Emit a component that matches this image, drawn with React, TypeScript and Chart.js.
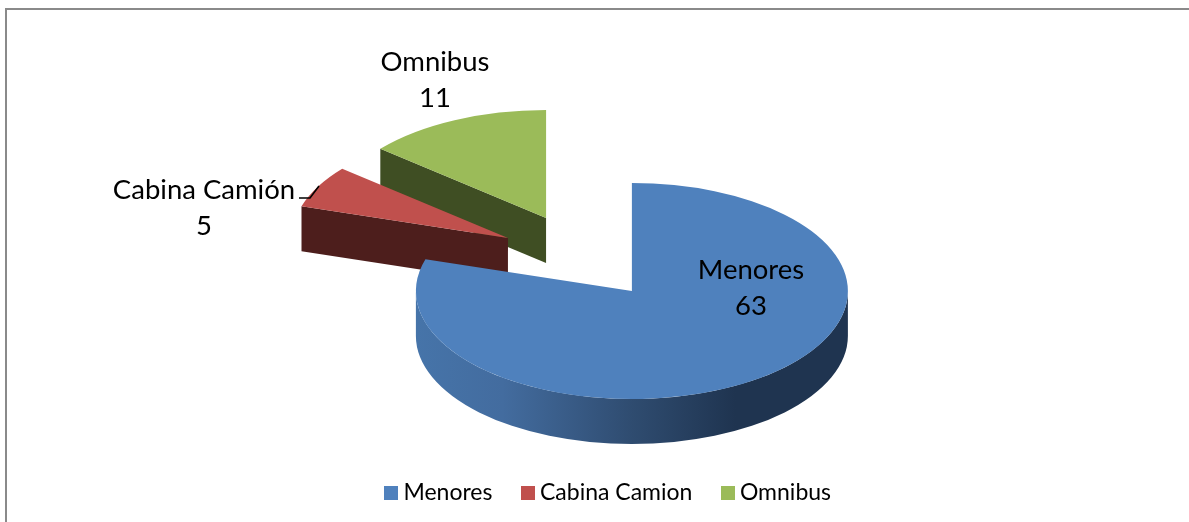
import React, { useEffect, useRef } from "react";
import { Chart, registerables } from "chart.js";

Chart.register(...registerables);

const categories = ["Menores", "Cabina Camion", "Omnibus"];
const dataLabelNames = ["Menores", "Cabina Camión", "Omnibus"];
const values = [63, 5, 11];
const topColors = ["#4F81BD", "#C0504D", "#9BBB59"];
const wallColors = ["#1F3450", "#4D1E1C", "#3F4E23"];

const FONT = "Lato, 'Open Sans', sans-serif";
const CENTER = { x: 584, y: 258.6 };
const SQUASH = 0.5;
const DEPTH = 45;
const RADIUS = 216;
const explode = [80.6, 86.5, 89.5];
const labelCenters = [
  { x: 751, y: 270 },
  { x: 204, y: 190 },
  { x: 435, y: 62 },
];
const LABEL_LINE = 36.5;

function swatch(color: string) {
  const c = document.createElement("canvas");
  c.width = 14;
  c.height = 14;
  const g = c.getContext("2d")!;
  g.fillStyle = color;
  g.fillRect(0, 0, 14, 14);
  return c;
}

const piePlugin = {
  id: "pie3d",
  beforeDraw(chart: any) {
    const { ctx } = chart;
    ctx.save();
    ctx.strokeStyle = "#8A8A8A";
    ctx.lineWidth = 2;
    ctx.beginPath();
    ctx.moveTo(6, 522);
    ctx.lineTo(6, 9);
    ctx.lineTo(1189, 9);
    ctx.stroke();
    ctx.restore();
  },
  beforeDatasetsDraw(chart: any) {
    const { ctx } = chart;
    const arcs = chart.getDatasetMeta(0).data;
    // back to front: Omnibus, Cabina, Menores
    [2, 1, 0].forEach((i) => {
      const arc = arcs[i];
      const mid = (arc.startAngle + arc.endAngle) / 2;
      const cx = CENTER.x + Math.cos(mid) * explode[i];
      const cy = CENTER.y + Math.sin(mid) * explode[i] * SQUASH;
      const r = arc.outerRadius;
      const px = (a: number) => cx + Math.cos(a) * r;
      const py = (a: number) => cy + Math.sin(a) * r * SQUASH;

      ctx.save();
      if (i === 0) {
        // rim of the large slice, facing the viewer
        const a0 = 0;
        const a1 = Math.PI;
        const grad = ctx.createLinearGradient(cx - r, 0, cx + r, 0);
        grad.addColorStop(0, "#4674A9");
        grad.addColorStop(0.2, "#436C9F");
        grad.addColorStop(0.5, "#2F4C70");
        grad.addColorStop(0.74, "#1F3450");
        grad.addColorStop(1, "#1F3450");
        ctx.fillStyle = grad;
        ctx.beginPath();
        ctx.ellipse(cx, cy, r, r * SQUASH, 0, a0, a1);
        ctx.lineTo(px(a1), py(a1) + DEPTH);
        ctx.ellipse(cx, cy + DEPTH, r, r * SQUASH, 0, a1, a0, true);
        ctx.closePath();
        ctx.fill();
      } else {
        // flat cut face from the start edge to the apex
        ctx.fillStyle = wallColors[i];
        ctx.beginPath();
        ctx.moveTo(px(arc.startAngle), py(arc.startAngle));
        ctx.lineTo(cx, cy);
        ctx.lineTo(cx, cy + DEPTH);
        ctx.lineTo(px(arc.startAngle), py(arc.startAngle) + DEPTH);
        ctx.closePath();
        ctx.fill();
      }
      ctx.restore();

      ctx.save();
      ctx.translate(cx, cy);
      ctx.scale(1, SQUASH);
      ctx.translate(-arc.x, -arc.y);
      arc.draw(ctx);
      ctx.restore();
    });

    ctx.save();
    ctx.fillStyle = "#000";
    ctx.font = `27.5px ${FONT}`;
    ctx.textAlign = "center";
    ctx.textBaseline = "middle";
    values.forEach((v, i) => {
      ctx.fillText(dataLabelNames[i], labelCenters[i].x, labelCenters[i].y);
      ctx.fillText(String(v), labelCenters[i].x, labelCenters[i].y + LABEL_LINE);
    });
    ctx.strokeStyle = "#000";
    ctx.lineWidth = 1.6;
    ctx.beginPath();
    ctx.moveTo(299, 198);
    ctx.lineTo(310, 198);
    ctx.lineTo(319, 186);
    ctx.stroke();
    ctx.restore();
    return false;
  },
};

export default function App() {
  const ref = useRef<HTMLCanvasElement>(null);
  useEffect(() => {
    document.body.style.margin = "0";
    const chart = new Chart(ref.current!, {
      type: "pie",
      data: {
        labels: categories,
        datasets: [
          {
            data: values,
            backgroundColor: topColors,
            borderWidth: 0,
            hoverOffset: 0,
          },
        ],
      },
      options: {
        responsive: false,
        animation: false,
        radius: RADIUS,
        layout: { padding: { left: 33, right: 0, top: 0, bottom: 8 } },
        plugins: {
          tooltip: { enabled: false },
          title: { display: false },
          legend: {
            display: true,
            position: "bottom",
            labels: {
              usePointStyle: true,
              pointStyleWidth: 1,
              padding: 35,
              color: "#000",
              font: { family: FONT, size: 23 },
              generateLabels: () =>
                categories.map((text, i) => ({
                  text,
                  fillStyle: topColors[i],
                  strokeStyle: topColors[i],
                  lineWidth: 0,
                  pointStyle: swatch(topColors[i]),
                  hidden: false,
                  index: i,
                  fontColor: "#000",
                })),
            },
          },
        },
      } as any,
      plugins: [piePlugin as any],
    });
    return () => chart.destroy();
  }, []);
  return (
    <canvas
      ref={ref}
      width={1189}
      height={522}
      style={{ display: "block", width: 1189, height: 522 }}
    />
  );
}
